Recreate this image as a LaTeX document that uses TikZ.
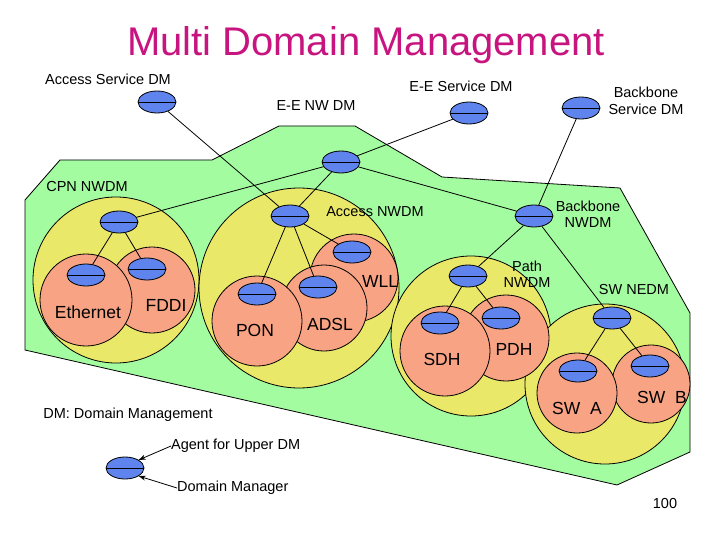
\documentclass[tikz,border=0pt]{standalone}
\usepackage{fontspec}
\setmainfont{Liberation Sans}
\usetikzlibrary{shapes.geometric,arrows.meta}
\definecolor{gr}{HTML}{A4FCA0}
\definecolor{yl}{HTML}{EAE868}
\definecolor{og}{HTML}{F7A384}
\definecolor{bl}{HTML}{5F84EE}
\definecolor{tt}{HTML}{C8147F}
\begin{document}
\begin{tikzpicture}[x=1pt,y=-1pt,
  dm/.style={ellipse,draw,thick,fill=bl,minimum width=38pt,minimum height=22pt,inner sep=0pt,
    path picture={\draw (path picture bounding box.west) -- (path picture bounding box.east);}},
  ydom/.style={draw,thick,fill=yl},
  odom/.style={draw,thick,fill=og},
  lbl/.style={font=\fontsize{14.5}{16.5}\selectfont,inner sep=0pt},
  big/.style={font=\fontsize{17.5}{19}\selectfont,inner sep=0pt},
  con/.style={thick},
  arr/.style={thick,-{Stealth[length=7pt,width=5pt]}}]
\useasboundingbox (0,0) rectangle (720,540);
\fill[white] (0,0) rectangle (720,540);
% green region
\draw[thick,fill=gr] (25,200) -- (60,160) -- (212,160) -- (279,126) -- (355,126) -- (442,177) -- (620,188) -- (690,313) -- (690,452) -- (617,485) -- (25,350) -- cycle;
% yellow domains
\draw[ydom] (116,280) circle (83);
\draw[ydom] (299,288) circle (100);
\draw[ydom] (471,336) circle (80);
\draw[ydom] (605,384) circle (80);
% orange domains
\draw[odom] (152,290) circle (43);
\draw[odom] (86,300) circle (46);
\draw[odom] (354,278) circle (44);
\draw[odom] (324,308) circle (43);
\draw[odom] (257,321) circle (45);
\draw[odom] (506,338) circle (43);
\draw[odom] (445,351) circle (45);
\draw[odom] (651,384) circle (39);
\draw[odom] (577,393) circle (40);
% managers
\node[dm] (asd) at (157,102) {};
\node[dm] (esd) at (469,113) {};
\node[dm] (bsd) at (581,108) {};
\node[dm] (enw) at (341,162) {};
\node[dm] (cpn) at (119,222) {};
\node[dm] (eth) at (86,275) {};
\node[dm] (fddi) at (147,269) {};
\node[dm] (anw) at (290,216) {};
\node[dm] (wll) at (352,252) {};
\node[dm] (adsl) at (318,287) {};
\node[dm] (pon) at (257,294) {};
\node[dm] (bnw) at (534,216) {};
\node[dm] (path) at (468,276) {};
\node[dm] (sdh) at (440,323) {};
\node[dm] (pdh) at (501,318) {};
\node[dm] (swn) at (612,318) {};
\node[dm] (swa) at (578,371) {};
\node[dm] (swb) at (650,366) {};
\node[dm] (leg) at (125,468) {};
% connectors
\draw[con] (asd) -- (anw);
\draw[con] (esd) -- (enw);
\draw[con] (bsd) -- (bnw);
\draw[con] (enw) -- (cpn);
\draw[con] (enw) -- (anw);
\draw[con] (enw) -- (bnw);
\draw[con] (cpn) -- (eth);
\draw[con] (cpn) -- (fddi);
\draw[con] (anw) -- (pon);
\draw[con] (anw) -- (adsl);
\draw[con] (anw) -- (wll);
\draw[con] (bnw) -- (path);
\draw[con] (bnw) -- (swn);
\draw[con] (path) -- (sdh);
\draw[con] (path) -- (pdh);
\draw[con] (swn) -- (swa);
\draw[con] (swn) -- (swb);
% texts
\node[text=tt,font=\fontsize{40}{44}\selectfont,inner sep=0pt] (title) at (366,45) {Multi Domain Management};
\node[lbl] (t1) at (108,79) {Access Service DM};
\node[lbl] (t2) at (461,86) {E-E Service DM};
\node[lbl] (t3) at (316,106) {E-E NW DM};
\node[lbl,align=center] (t4) at (646,101) {Backbone\\Service DM};
\node[lbl] (t5) at (87,187) {CPN NWDM};
\node[lbl] (t6) at (375,212) {Access NWDM};
\node[lbl,align=center] (t7) at (588,214) {Backbone\\NWDM};
\node[lbl,align=center] (t8) at (527,274) {Path\\NWDM};
\node[lbl] (t9) at (634,290) {SW NEDM};
\node[big] (t10) at (88,312) {Ethernet};
\node[big] (t11) at (166,305) {FDDI};
\node[big] (t12) at (255,330) {PON};
\node[big] (t13) at (330,324) {ADSL};
\node[big] (t14) at (380,281) {WLL};
\node[big] (t15) at (442,359) {SDH};
\node[big] (t16) at (514,349) {PDH};
\node[big] (t17) at (577,408) {SW~~A};
\node[big] (t18) at (662,397) {SW~~B};
\node[lbl] (t19) at (128,415) {DM: Domain Management};
\node[lbl,anchor=west] (t20) at (171,446) {Agent for Upper DM};
\node[lbl,anchor=west] (t21) at (177,488) {Domain Manager};
\node[lbl] (t22) at (665,504) {100};
\draw[arr] (t20.west) -- (leg.north east);
\draw[arr] (t21.west) -- (leg.south east);
\end{tikzpicture}
\end{document}
